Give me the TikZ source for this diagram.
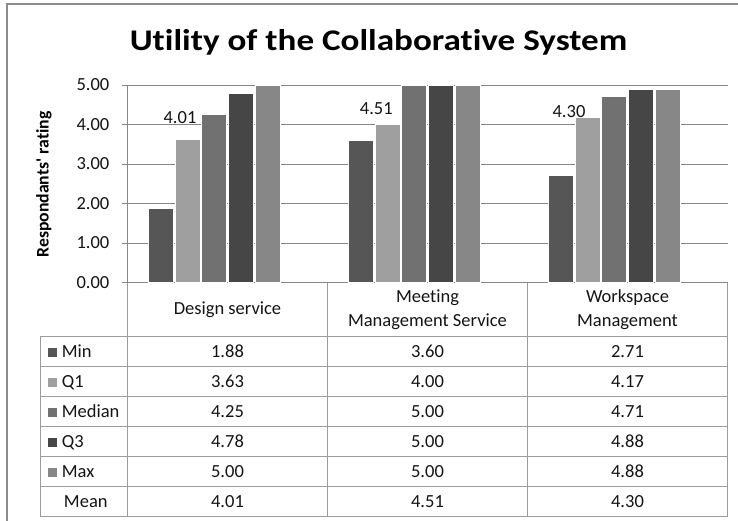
\documentclass[tikz,border=0pt]{standalone}
\usepackage{fontspec}
\setmainfont{Carlito}[Ligatures=NoCommon]

\definecolor{cmin}{HTML}{565656}
\definecolor{cqone}{HTML}{9F9F9F}
\definecolor{cmed}{HTML}{717171}
\definecolor{cqthree}{HTML}{464646}
\definecolor{cmax}{HTML}{878787}
\definecolor{gridc}{HTML}{878787}
\definecolor{tabc}{HTML}{9C9C9C}
\definecolor{framec}{HTML}{8C8C8C}

\tikzstyle{gl}=[draw=gridc,
                line width=0.8pt]
\tikzstyle{tl}=[draw=tabc,
                line width=0.8pt]
\tikzstyle{bmin}=[fill=cmin, draw=white, line width=0.7pt]
\tikzstyle{bqone}=[fill=cqone, draw=white, line width=0.7pt]
\tikzstyle{bmed}=[fill=cmed, draw=white, line width=0.7pt]
\tikzstyle{bqthree}=[fill=cqthree, draw=white, line width=0.7pt]
\tikzstyle{bmax}=[fill=cmax, draw=white, line width=0.7pt]
\tikzstyle{txt}=[font=\fontsize{18.5}{23.4}\selectfont,
                 inner sep=0pt,
                 text=black!92]
\tikzstyle{lk}=[shape=rectangle,
                minimum size=9pt,
                inner sep=0pt]

\begin{document}
\begin{tikzpicture}[x=1pt,y=-1pt]

\useasboundingbox (0,0) rectangle (738,521);

% chart frame
\draw[framec, line width=1.2pt] (745,4) -- (7,4) -- (7,530);

% title and axis title
\node[anchor=base, inner sep=0pt, xscale=1.17, font=\fontsize{30}{36}\selectfont\bfseries] (title) at (378.5,51) {Utility of the Collaborative System};
\node[anchor=base, rotate=90, inner sep=0pt, font=\fontsize{17.7}{21}\selectfont\bfseries] (ylab) at (48.5,184.5) {Respondants\textquotesingle\ rating};

\begin{scope}[shift={(0,282.5)}, y=39.5pt]

% gridlines and ticks
\draw[gl] (121.5,5) -- (727.5,5);
\draw[gl] (121.5,4) -- (727.5,4);
\draw[gl] (121.5,3) -- (727.5,3);
\draw[gl] (121.5,2) -- (727.5,2);
\draw[gl] (121.5,1) -- (727.5,1);
\draw[gl] (121.5,0) -- (727.5,0);
\draw[gl] (127.5,5) -- (127.5,0);

% tick labels
\node[txt, anchor=east] (t5) at (109.5,5) {5.00};
\node[txt, anchor=east] (t4) at (109.5,4) {4.00};
\node[txt, anchor=east] (t3) at (109.5,3) {3.00};
\node[txt, anchor=east] (t2) at (109.5,2) {2.00};
\node[txt, anchor=east] (t1) at (109.5,1) {1.00};
\node[txt, anchor=east] (t0) at (109.5,0) {0.00};

% bars: design service
\draw[bmin]    (148.3,0) rectangle (173.3,1.88);
\draw[bqone]   (175.0,0) rectangle (200.0,3.63);
\draw[bmed]    (201.7,0) rectangle (226.7,4.25);
\draw[bqthree] (228.4,0) rectangle (253.4,4.78);
\draw[bmax]    (255.1,0) rectangle (280.1,5.00);

% bars: meeting management service
\draw[bmin]    (348.3,0) rectangle (373.3,3.60);
\draw[bqone]   (375.0,0) rectangle (400.0,4.00);
\draw[bmed]    (401.7,0) rectangle (426.7,5.00);
\draw[bqthree] (428.4,0) rectangle (453.4,5.00);
\draw[bmax]    (455.1,0) rectangle (480.1,5.00);

% bars: workspace management
\draw[bmin]    (548.3,0) rectangle (573.3,2.71);
\draw[bqone]   (575.0,0) rectangle (600.0,4.17);
\draw[bmed]    (601.7,0) rectangle (626.7,4.71);
\draw[bqthree] (628.4,0) rectangle (653.4,4.88);
\draw[bmax]    (655.1,0) rectangle (680.1,4.88);

\end{scope}

% mean labels
\node[txt] (m1) at (180,117.5) {4.01};
\node[txt] (m2) at (376.3,108.8) {4.51};
\node[txt] (m3) at (569,111.7) {4.30};

% data table lines
\draw[tl] (127.5,282.5) -- (127.5,516.7);
\draw[tl] (327.5,282.5) -- (327.5,516.7);
\draw[tl] (527.5,282.5) -- (527.5,516.7);
\draw[tl] (727.5,282.5) -- (727.5,516.7);
\draw[tl] (40,336.7) -- (40,516.7);
\draw[tl] (40,336.7) -- (727.5,336.7);
\draw[tl] (40,366.7) -- (727.5,366.7);
\draw[tl] (40,396.7) -- (727.5,396.7);
\draw[tl] (40,426.7) -- (727.5,426.7);
\draw[tl] (40,456.7) -- (727.5,456.7);
\draw[tl] (40,486.7) -- (727.5,486.7);
\draw[tl] (40,516.7) -- (727.5,516.7);

% category headers
\node[txt, align=center] (c1) at (227.5,309.7) {Design service};
\node[txt, align=center] (c2) at (427.5,309.7) {Meeting\\Management Service};
\node[txt, align=center] (c3) at (627.5,309.7) {Workspace\\Management};

% legend keys and row names
\node[lk, fill=cmin]    (kmin) at (52,352) {};
\node[lk, fill=cqone]   (kq1)  at (52,382) {};
\node[lk, fill=cmed]    (kmed) at (52,412) {};
\node[lk, fill=cqthree] (kq3)  at (52,442) {};
\node[lk, fill=cmax]    (kmax) at (52,472) {};
\node[txt, anchor=base west] (rmin)  at (61.7,357.4) {Min};
\node[txt, anchor=base west] (rq1)   at (61.7,387.4) {Q1};
\node[txt, anchor=base west] (rmed)  at (61.7,417.4) {Median};
\node[txt, anchor=base west] (rq3)   at (61.7,447.4) {Q3};
\node[txt, anchor=base west] (rmax)  at (61.7,477.4) {Max};
\node[txt, anchor=base] (rmean) at (85.8,507.4) {Mean};

% values
\node[txt, anchor=base] (v11) at (227.5,357.4) {1.88};
\node[txt, anchor=base] (v12) at (427.5,357.4) {3.60};
\node[txt, anchor=base] (v13) at (627.5,357.4) {2.71};
\node[txt, anchor=base] (v21) at (227.5,387.4) {3.63};
\node[txt, anchor=base] (v22) at (427.5,387.4) {4.00};
\node[txt, anchor=base] (v23) at (627.5,387.4) {4.17};
\node[txt, anchor=base] (v31) at (227.5,417.4) {4.25};
\node[txt, anchor=base] (v32) at (427.5,417.4) {5.00};
\node[txt, anchor=base] (v33) at (627.5,417.4) {4.71};
\node[txt, anchor=base] (v41) at (227.5,447.4) {4.78};
\node[txt, anchor=base] (v42) at (427.5,447.4) {5.00};
\node[txt, anchor=base] (v43) at (627.5,447.4) {4.88};
\node[txt, anchor=base] (v51) at (227.5,477.4) {5.00};
\node[txt, anchor=base] (v52) at (427.5,477.4) {5.00};
\node[txt, anchor=base] (v53) at (627.5,477.4) {4.88};
\node[txt, anchor=base] (v61) at (227.5,507.4) {4.01};
\node[txt, anchor=base] (v62) at (427.5,507.4) {4.51};
\node[txt, anchor=base] (v63) at (627.5,507.4) {4.30};

\end{tikzpicture}
\end{document}
